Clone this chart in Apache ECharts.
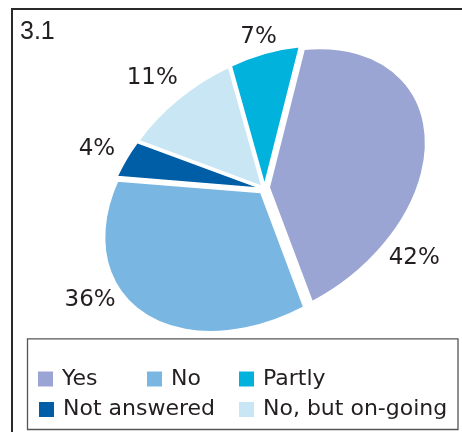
<!DOCTYPE html>
<html>
<head>
<meta charset="utf-8">
<script src="https://cdn.jsdelivr.net/npm/echarts@6/dist/echarts.min.js"></script>
<style>
  html, body { margin: 0; padding: 0; background: #fff; }
  #chart { width: 462px; height: 432px; }
</style>
</head>
<body>
<div id="chart"></div>
<script>
// Survey answers, listed clockwise from the first slice
const categories = ['Yes', 'No', 'Not answered', 'No, but on-going', 'Partly'];
const shares = [42, 36, 4, 11, 7];
// Order of the entries in the key
const legendOrder = ['Yes', 'No', 'Partly', 'Not answered', 'No, but on-going'];

const colors = {
  'Yes': '#9AA5D3',
  'No': '#7AB6E2',
  'Partly': '#00B2DC',
  'Not answered': '#005EA6',
  'No, but on-going': '#C8E6F3'
};
const textColor = '#231F20';

// The disc is a unit circle stretched to an ellipse and tilted
const pie = { cx: 264.5, cy: 189, rx: 171.5, ry: 120, tilt: 35 * Math.PI / 180, start: 39, explode: 0.03 };
const labelGap = 30;
// Pixel nudges for the percentage labels
const labelShift = {
  'Yes': [-40, 128],
  'No': [-32, -34],
  'Not answered': [0, -4],
  'No, but on-going': [-6, 1],
  'Partly': [-7, 14]
};
// Key entry positions (left, top)
const keySlots = {
  'Yes': [38, 368],
  'No': [147, 368],
  'Partly': [239, 368],
  'Not answered': [39, 398.5],
  'No, but on-going': [239, 398.5]
};

const total = shares.reduce((s, v) => s + v, 0);
const starts = [];
shares.reduce((acc, v) => { starts.push(acc); return acc + v; }, 0);

function toScreen(lx, ly) {
  const x = lx * pie.rx, y = ly * pie.ry;
  const c = Math.cos(pie.tilt), s = Math.sin(pie.tilt);
  return [pie.cx + x * c + y * s, pie.cy - x * s + y * c];
}

function renderSlice(params, api) {
  const value = api.value(0);
  const from = api.value(1);
  const name = params.seriesName;
  const a0 = (pie.start + from / total * 360 - 90) * Math.PI / 180;
  const a1 = a0 + value / total * 2 * Math.PI;
  const mid = (a0 + a1) / 2;
  const ox = Math.cos(mid) * pie.explode, oy = Math.sin(mid) * pie.explode;
  const edge = toScreen(Math.cos(mid) * (1 + pie.explode), Math.sin(mid) * (1 + pie.explode));
  const dx = edge[0] - pie.cx, dy = edge[1] - pie.cy, len = Math.hypot(dx, dy);
  const shift = labelShift[name] || [0, 0];
  const tx = edge[0] + dx / len * labelGap + shift[0];
  const ty = edge[1] + dy / len * labelGap + shift[1];
  return {
    type: 'group',
    children: [
      {
        type: 'group',
        x: pie.cx, y: pie.cy,
        rotation: pie.tilt,
        scaleX: pie.rx, scaleY: pie.ry,
        children: [{
          type: 'sector',
          shape: { cx: ox, cy: oy, r0: 0, r: 1, startAngle: a0, endAngle: a1, clockwise: true },
          style: { fill: api.visual('color'), stroke: '#fff', lineWidth: 1.5, strokeNoScale: true }
        }]
      },
      {
        type: 'text',
        x: tx, y: ty,
        style: {
          text: Math.round(value / total * 100) + '%',
          fill: textColor,
          font: '23px "DejaVu Sans"',
          align: 'center',
          verticalAlign: 'middle'
        }
      }
    ]
  };
}

const chart = echarts.init(document.getElementById('chart'), null, { renderer: 'canvas' });

chart.setOption({
  animation: false,
  backgroundColor: '#fff',
  legend: legendOrder.map(name => ({
    data: [name],
    left: keySlots[name][0],
    top: keySlots[name][1],
    padding: 0,
    icon: 'rect',
    itemWidth: 15,
    itemHeight: 15,
    selectedMode: false,
    textStyle: { fontSize: 22, fontFamily: 'DejaVu Sans', color: textColor, padding: [0, 0, 0, 4] }
  })),
  graphic: [
    { type: 'rect', silent: true, shape: { x: 12, y: 9, width: 480, height: 460 },
      style: { fill: 'none', stroke: '#2a2a2a', lineWidth: 2 } },
    { type: 'rect', silent: true, shape: { x: 27.5, y: 338.8, width: 430.5, height: 90.7 },
      style: { fill: 'none', stroke: '#555', lineWidth: 1.3 } },
    { type: 'text', silent: true, x: 20, y: 32,
      style: { text: '3.1', font: '25px "Liberation Sans"', fill: textColor, verticalAlign: 'middle' } }
  ],
  series: categories.map((name, i) => ({
    type: 'custom',
    name: name,
    coordinateSystem: 'none',
    silent: true,
    itemStyle: { color: colors[name] },
    data: [[shares[i], starts[i]]],
    renderItem: renderSlice
  }))
});
</script>
</body>
</html>
